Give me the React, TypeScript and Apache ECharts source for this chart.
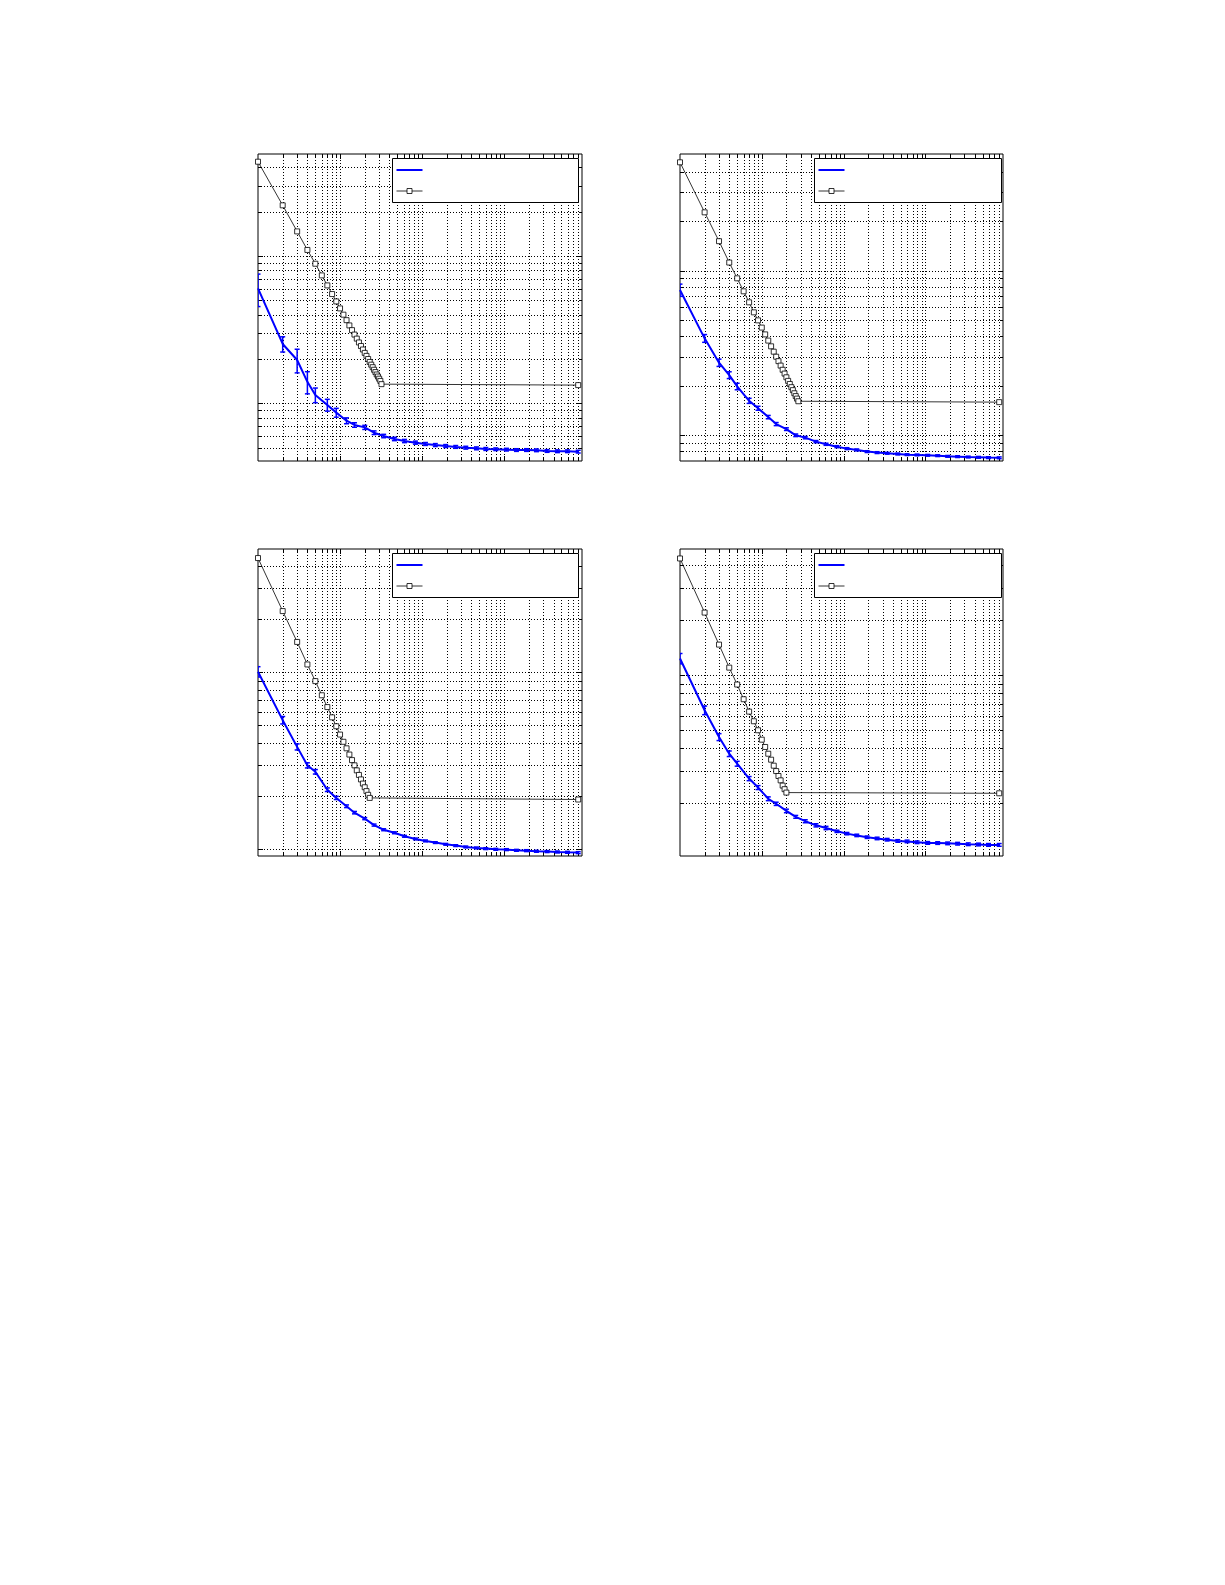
import React, { useEffect, useRef } from 'react';
import * as echarts from 'echarts';

// x sampling shared by the blue curves (all four panels)
const xBlue = [1, 2, 3, 4, 5, 7, 9, 12, 15, 20, 26, 34, 46, 61, 83, 110, 145, 194, 257, 341, 460, 598, 791, 1068, 1414, 1873, 2479, 3345, 4467, 5918, 8000];

// panel A (top left)
const yBlueA = [6.04, 2.53, 1.97, 1.4, 1.14, 0.975, 0.865, 0.762, 0.713, 0.687, 0.632, 0.6, 0.573, 0.555, 0.541, 0.53, 0.521, 0.513, 0.506, 0.5, 0.495, 0.49, 0.488, 0.485, 0.482, 0.482, 0.48, 0.475, 0.473, 0.473, 0.47];
const errBlueA = [1.5, 0.3, 0.36, 0.24, 0.13, 0.09, 0.06, 0.035, 0.025, 0.022, 0.018, 0.016, 0.015, 0.014, 0.013, 0.012, 0.012, 0.012, 0.011, 0.011, 0.011, 0.011, 0.01, 0.01, 0.01, 0.01, 0.01, 0.01, 0.01, 0.01, 0.01];
const xBlackA = [1, 2, 3, 4, 5, 6, 7, 8, 9, 10, 11, 12, 13, 14, 15, 16, 17, 18, 19, 20, 21, 22, 23, 24, 25, 26, 27, 28, 29, 30, 31, 32, 8000];
const yBlackA = [43.7, 22.1, 14.7, 11.0, 8.87, 7.39, 6.32, 5.52, 4.92, 4.41, 4.0, 3.67, 3.38, 3.14, 2.93, 2.75, 2.59, 2.45, 2.32, 2.2, 2.1, 2.0, 1.91, 1.83, 1.76, 1.69, 1.63, 1.57, 1.52, 1.47, 1.42, 1.35, 1.33];

// panel B (top right)
const yBlueB = [7.63, 3.88, 2.76, 2.32, 1.98, 1.62, 1.46, 1.29, 1.17, 1.09, 1.0, 0.968, 0.915, 0.882, 0.853, 0.83, 0.815, 0.796, 0.785, 0.778, 0.77, 0.763, 0.76, 0.756, 0.752, 0.745, 0.742, 0.738, 0.735, 0.732, 0.73];
const errBlueB = [0.65, 0.21, 0.14, 0.11, 0.09, 0.057, 0.04, 0.03, 0.025, 0.02, 0.018, 0.016, 0.014, 0.013, 0.012, 0.011, 0.011, 0.01, 0.01, 0.01, 0.01, 0.009, 0.009, 0.009, 0.009, 0.009, 0.009, 0.009, 0.009, 0.009, 0.009];
const xBlackB = [1, 2, 3, 4, 5, 6, 7, 8, 9, 10, 11, 12, 13, 14, 15, 16, 17, 18, 19, 20, 21, 22, 23, 24, 25, 26, 27, 28, 8000];
const yBlackB = [45.5, 22.6, 15.1, 11.2, 8.98, 7.49, 6.42, 5.58, 4.99, 4.51, 4.1, 3.76, 3.47, 3.22, 3.0, 2.82, 2.65, 2.5, 2.37, 2.25, 2.14, 2.05, 1.96, 1.88, 1.8, 1.73, 1.67, 1.61, 1.59];

// panel C (bottom left)
const yBlueC = [10.1, 5.36, 3.78, 2.97, 2.73, 2.16, 1.94, 1.74, 1.6, 1.48, 1.36, 1.28, 1.23, 1.175, 1.135, 1.106, 1.082, 1.058, 1.04, 1.022, 1.009, 1.0, 0.991, 0.987, 0.978, 0.974, 0.966, 0.962, 0.957, 0.953, 0.949];
const errBlueC = [0.68, 0.26, 0.15, 0.1, 0.08, 0.05, 0.04, 0.03, 0.025, 0.02, 0.018, 0.016, 0.015, 0.014, 0.013, 0.013, 0.012, 0.012, 0.012, 0.012, 0.012, 0.012, 0.012, 0.012, 0.012, 0.012, 0.012, 0.012, 0.012, 0.012, 0.012];
const xBlackC = [1, 2, 3, 4, 5, 6, 7, 8, 9, 10, 11, 12, 13, 14, 15, 16, 17, 18, 19, 20, 21, 22, 23, 8000];
const yBlackC = [44.6, 22.3, 14.9, 11.1, 8.93, 7.42, 6.36, 5.56, 4.95, 4.44, 4.04, 3.71, 3.42, 3.18, 2.97, 2.78, 2.62, 2.47, 2.34, 2.23, 2.12, 2.02, 1.94, 1.9];

// panel D (bottom right)
const yBlueD = [1.234, 0.643, 0.459, 0.372, 0.328, 0.272, 0.243, 0.211, 0.198, 0.181, 0.168, 0.159, 0.151, 0.146, 0.14, 0.136, 0.133, 0.13, 0.128, 0.126, 0.124, 0.1233, 0.122, 0.121, 0.1208, 0.1203, 0.1198, 0.119, 0.1186, 0.118, 0.118];
const errBlueD = [0.08, 0.035, 0.02, 0.013, 0.01, 0.007, 0.006, 0.005, 0.004, 0.004, 0.003, 0.003, 0.003, 0.003, 0.002, 0.002, 0.002, 0.002, 0.002, 0.002, 0.002, 0.002, 0.002, 0.002, 0.002, 0.002, 0.002, 0.002, 0.002, 0.002, 0.002];
const xBlackD = [1, 2, 3, 4, 5, 6, 7, 8, 9, 10, 11, 12, 13, 14, 15, 16, 17, 18, 19, 20, 8000];
const yBlackD = [4.35, 2.2, 1.47, 1.1, 0.889, 0.739, 0.632, 0.56, 0.5, 0.444, 0.405, 0.372, 0.345, 0.32, 0.299, 0.281, 0.266, 0.249, 0.238, 0.228, 0.226];

// axis ranges
const xRange = [1, 8900];
const yRanges = [[0.406, 49.3], [0.698, 51.1], [0.908, 50.2], [0.1026, 4.9]];
const mantissas = [1, 2, 3, 4, 5, 6, 7, 8, 9];
const decades = [0.01, 0.1, 1, 10, 100, 1000];

const panels = [
  { left: 258, top: 154, width: 324, height: 307, legend: [392, 158, 186, 44], blue: yBlueA, err: errBlueA, bx: xBlackA, by: yBlackA },
  { left: 680, top: 154, width: 323, height: 307, legend: [814, 158, 187, 44], blue: yBlueB, err: errBlueB, bx: xBlackB, by: yBlackB },
  { left: 258, top: 549, width: 324, height: 307, legend: [392, 553, 186, 44], blue: yBlueC, err: errBlueC, bx: xBlackC, by: yBlackC },
  { left: 680, top: 549, width: 323, height: 307, legend: [814, 553, 187, 44], blue: yBlueD, err: errBlueD, bx: xBlackD, by: yBlackD },
];

const BLUE = '#0000ff';

const isDecade = (v: number) => Math.abs(Math.log10(v) - Math.round(Math.log10(v))) < 1e-9;

// grid values inside the range, leaving out the ones that sit on the frame
const gridValues = (min: number, max: number) => {
  const out: number[] = [];
  decades.forEach((d) => mantissas.forEach((m) => {
    const v = m * d;
    if (v > min * 1.03 && v < max / 1.03) out.push(v);
  }));
  return out;
};

// dotted grid lines plus inward ticks on all four sides
const renderGrid = (params: any, api: any) => {
  const cs = params.coordSys;
  const kind = api.value(2);
  const v = kind === 0 ? api.value(0) : api.value(1);
  const p = api.coord([api.value(0), api.value(1)]);
  const tl = isDecade(v) ? 5 : 3;
  const dot = { stroke: '#000', lineWidth: 1, lineDash: [1, 2] };
  const solid = { stroke: '#000', lineWidth: 1 };
  if (kind === 0) {
    const x = Math.round(p[0]) + 0.5;
    const y0 = cs.y, y1 = cs.y + cs.height;
    return {
      type: 'group',
      children: [
        { type: 'line', shape: { x1: x, y1: y0, x2: x, y2: y1 }, style: dot },
        { type: 'line', shape: { x1: x, y1: y1, x2: x, y2: y1 - tl }, style: solid },
        { type: 'line', shape: { x1: x, y1: y0, x2: x, y2: y0 + tl }, style: solid },
      ],
    };
  }
  const y = Math.round(p[1]) + 0.5;
  const x0 = cs.x, x1 = cs.x + cs.width;
  return {
    type: 'group',
    children: [
      { type: 'line', shape: { x1: x0, y1: y, x2: x1, y2: y }, style: dot },
      { type: 'line', shape: { x1: x0, y1: y, x2: x0 + tl, y2: y }, style: solid },
      { type: 'line', shape: { x1: x1, y1: y, x2: x1 - tl, y2: y }, style: solid },
    ],
  };
};

const renderErr = (params: any, api: any) => {
  const x = api.value(0), y = api.value(1), e = api.value(2);
  const top = api.coord([x, y + e]);
  const bot = api.coord([x, Math.max(y - e, 1e-6)]);
  const cap = 2.5;
  const st = { stroke: BLUE, lineWidth: 1.5 };
  return {
    type: 'group',
    children: [
      { type: 'line', shape: { x1: top[0], y1: top[1], x2: bot[0], y2: bot[1] }, style: st },
      { type: 'line', shape: { x1: top[0] - cap, y1: top[1], x2: top[0] + cap, y2: top[1] }, style: st },
      { type: 'line', shape: { x1: bot[0] - cap, y1: bot[1], x2: bot[0] + cap, y2: bot[1] }, style: st },
    ],
  };
};

const App: React.FC = () => {
  const chartRef = useRef<HTMLDivElement>(null);

  useEffect(() => {
    if (!chartRef.current) return;
    const chart = echarts.init(chartRef.current, null, { renderer: 'svg' });

    const series: any[] = [];
    panels.forEach((p, i) => {
      const [yMin, yMax] = yRanges[i];
      const gridData = [
        ...gridValues(xRange[0], xRange[1]).map((v) => [v, yMin, 0]),
        ...gridValues(yMin, yMax).map((v) => [xRange[0], v, 1]),
      ];
      series.push({
        type: 'custom', xAxisIndex: i, yAxisIndex: i, z: 1, silent: true, clip: false,
        renderItem: renderGrid, data: gridData,
      });
      series.push({
        type: 'custom', xAxisIndex: i, yAxisIndex: i, z: 3, silent: true, clip: true,
        renderItem: renderErr, data: xBlue.map((x, k) => [x, p.blue[k], p.err[k]]),
      });
      series.push({
        type: 'line', xAxisIndex: i, yAxisIndex: i, z: 4, symbol: 'none',
        lineStyle: { color: BLUE, width: 2 },
        data: xBlue.map((x, k) => [x, p.blue[k]]),
      });
      series.push({
        type: 'line', xAxisIndex: i, yAxisIndex: i, z: 5,
        symbol: 'rect', symbolSize: 5, showAllSymbol: true,
        itemStyle: { color: '#fff', borderColor: '#000', borderWidth: 0.8 },
        lineStyle: { color: '#000', width: 0.8 },
        data: p.bx.map((x, k) => [x, p.by[k]]),
      });
    });

    const graphic: any[] = [];
    panels.forEach((p) => {
      const [lx, ly, lw, lh] = p.legend;
      graphic.push({
        type: 'rect', z: 100, shape: { x: lx + 0.5, y: ly + 0.5, width: lw, height: lh },
        style: { fill: '#fff', stroke: '#000', lineWidth: 1 },
      });
      graphic.push({
        type: 'line', z: 101, shape: { x1: lx + 4.5, y1: ly + 12, x2: lx + 30.5, y2: ly + 12 },
        style: { stroke: BLUE, lineWidth: 2 },
      });
      graphic.push({
        type: 'line', z: 101, shape: { x1: lx + 4.5, y1: ly + 33, x2: lx + 30.5, y2: ly + 33 },
        style: { stroke: '#000', lineWidth: 0.8 },
      });
      graphic.push({
        type: 'rect', z: 102, shape: { x: lx + 15, y: ly + 30.5, width: 5, height: 5 },
        style: { fill: '#fff', stroke: '#000', lineWidth: 0.8 },
      });
    });

    chart.setOption({
      animation: false,
      backgroundColor: '#fff',
      grid: panels.map((p) => ({
        left: p.left, top: p.top, width: p.width, height: p.height,
        show: true, borderColor: '#000', borderWidth: 1, backgroundColor: 'transparent',
      })),
      xAxis: panels.map((_, i) => ({
        type: 'log', logBase: 10, gridIndex: i, min: xRange[0], max: xRange[1], show: false,
      })),
      yAxis: panels.map((_, i) => ({
        type: 'log', logBase: 10, gridIndex: i, min: yRanges[i][0], max: yRanges[i][1], show: false,
      })),
      series,
      graphic,
    });

    return () => {
      chart.dispose();
    };
  }, []);

  return (
    <div
      ref={chartRef}
      style={{ position: 'absolute', left: 0, top: 0, width: '1225px', height: '1585px', background: '#fff' }}
    />
  );
};

export default App;
